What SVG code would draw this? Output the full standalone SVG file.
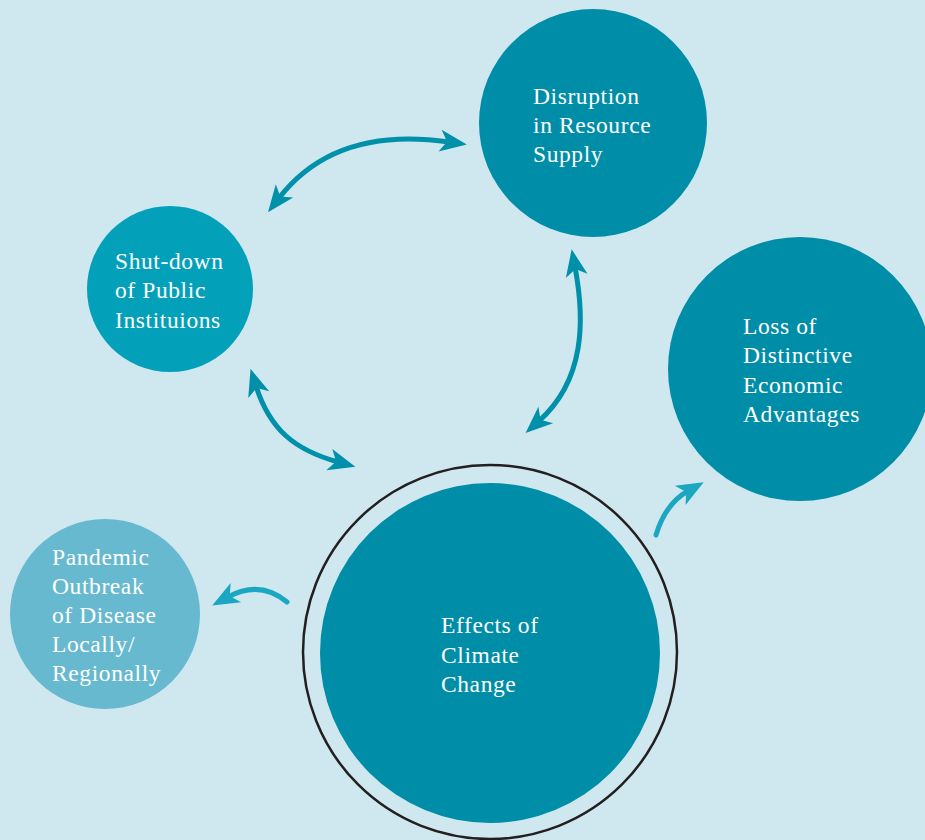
<svg xmlns="http://www.w3.org/2000/svg" width="925" height="840" viewBox="0 0 925 840">
<style>
.lbl{font-family:"Liberation Serif","DejaVu Serif",serif;font-size:23.5px;letter-spacing:0.6px;fill:#ffffff}
.dbl{fill:none;stroke:#0090a9;stroke-width:5;marker-start:url(#hd);marker-end:url(#hd)}
.sgl{fill:none;stroke:#1ba7c1;stroke-width:5;stroke-linecap:round;marker-end:url(#hs)}
</style>
<defs>
<marker id="hd" markerUnits="userSpaceOnUse" viewBox="-30 -15 32 30" refX="-18" refY="0" markerWidth="32" markerHeight="30" orient="auto-start-reverse">
<path d="M0,0 L-27,-11 L-20,0 L-27,11 Z" fill="#0090a9"/>
</marker>
<marker id="hs" markerUnits="userSpaceOnUse" viewBox="-30 -15 32 30" refX="-18" refY="0" markerWidth="32" markerHeight="30" orient="auto">
<path d="M0,0 L-27,-11 L-20,0 L-27,11 Z" fill="#1ba7c1"/>
</marker>
</defs>
<rect width="925" height="840" fill="#cfe7ef"/>
<g id="connectors">
<path class="dbl" d="M279,198 C320,145 380,132 449,142"/>
<path class="dbl" d="M256,386 C270,430 295,450 338,462"/>
<path class="dbl" d="M575,267 C585,320 585,380 539,421"/>
<path class="sgl" d="M287,602 C270,588 250,585 228,597"/>
<path class="sgl" d="M656,535 C662,515 672,500 688,491"/>
</g>
<g id="disruption">
<circle cx="593" cy="123" r="114" fill="#008da8"/>
<text class="lbl"><tspan x="533" y="104">Disruption</tspan><tspan x="533" y="133">in Resource</tspan><tspan x="533" y="162">Supply</tspan></text>
</g>
<g id="shutdown">
<circle cx="170" cy="289" r="83" fill="#03a0ba"/>
<text class="lbl"><tspan x="115" y="269">Shut-down</tspan><tspan x="115" y="298">of Public</tspan><tspan x="115" y="328">Instituions</tspan></text>
</g>
<g id="loss">
<circle cx="800" cy="369" r="132" fill="#008da8"/>
<text class="lbl"><tspan x="743" y="334">Loss of</tspan><tspan x="743" y="363">Distinctive</tspan><tspan x="743" y="393">Economic</tspan><tspan x="743" y="422">Advantages</tspan></text>
</g>
<g id="pandemic">
<circle cx="105" cy="614" r="95" fill="#67b9cf"/>
<text class="lbl"><tspan x="52" y="565">Pandemic</tspan><tspan x="52" y="594">Outbreak</tspan><tspan x="52" y="623">of Disease</tspan><tspan x="52" y="652">Locally/</tspan><tspan x="52" y="681">Regionally</tspan></text>
</g>
<g id="effects">
<circle cx="490" cy="652" r="187" fill="none" stroke="#231f20" stroke-width="2.5"/>
<circle cx="490" cy="653" r="170" fill="#008da8"/>
<text class="lbl"><tspan x="441" y="633">Effects of</tspan><tspan x="441" y="663">Climate</tspan><tspan x="441" y="692">Change</tspan></text>
</g>
</svg>
